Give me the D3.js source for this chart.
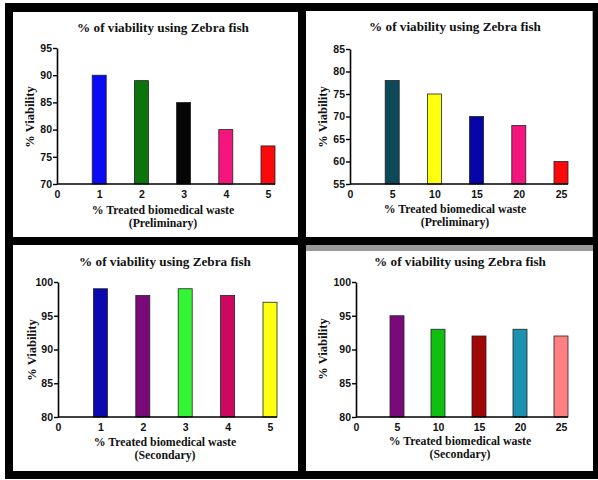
<!DOCTYPE html>
<html><head><meta charset="utf-8">
<script src="https://cdn.jsdelivr.net/npm/d3@7"></script>
<style>
html,body{margin:0;padding:0;background:#fff;}
svg{display:block;}
</style></head>
<body>
<script>
// ---- Data ----
const catsA = [1, 2, 3, 4, 5];
const catsB = [5, 10, 15, 20, 25];
const prelimA = [90, 89, 85, 80, 77];
const prelimB = [78, 75, 70, 68, 60];
const secondA = [99, 98, 99, 98, 97];
const secondB = [95, 93, 92, 93, 92];
const yTicksPrelimA = [70, 75, 80, 85, 90, 95];
const yTicksPrelimB = [55, 60, 65, 70, 75, 80, 85];
const yTicksSecond = [80, 85, 90, 95, 100];
const colorsPrelimA = ["#0a0af5", "#0b740b", "#050505", "#f5157f", "#fa0a0a"];
const colorsPrelimB = ["#0c4a5a", "#ffff10", "#0606a8", "#f5157f", "#fa0a0a"];
const colorsSecondA = ["#0a0ab0", "#7a0a7a", "#33f533", "#cc0860", "#ffff10"];
const colorsSecondB = ["#7a0a7a", "#10c010", "#a00808", "#1a92b0", "#ff8080"];
const titleText = "% of viability using Zebra fish";
const yTitleText = "% Viability";
const xTitleText = "% Treated biomedical waste";
const subPrelim = "(Preliminary)";
const subSecond = "(Secondary)";

const W = 598, H = 480;
const svg = d3.select("body").append("svg").attr("width", W).attr("height", H);

// frame
svg.append("rect").attr("x", 5).attr("y", 3).attr("width", 593).attr("height", 476).attr("fill", "#000");
const panels = [
  {px:13, py:12, pw:285, ph:225},
  {px:306, py:11, pw:287, ph:226},
  {px:13, py:245, pw:285, ph:226},
  {px:306, py:245, pw:287, ph:226}
];
panels.forEach(p => svg.append("rect").attr("x", p.px).attr("y", p.py).attr("width", p.pw).attr("height", p.ph).attr("fill", "#fff"));
svg.append("rect").attr("x", 306).attr("y", 245).attr("width", 287).attr("height", 6).attr("fill", "#999");
svg.append("rect").attr("x", 592).attr("y", 11).attr("width", 1).attr("height", 226).attr("fill", "#aaa");

const charts = [
  {cats: catsA, vals: prelimA, colors: colorsPrelimA, yTicks: yTicksPrelimA, sub: subPrelim,
   x0: 57, x1: 268, yT: 48, yB: 184, titleX: 163, titleY: 31.5, yTitleX: 30, yTitleY: 117, xT1: 214, xT2: 227, xTitleX: 163},
  {cats: catsB, vals: prelimB, colors: colorsPrelimB, yTicks: yTicksPrelimB, sub: subPrelim,
   x0: 350, x1: 561, yT: 49, yB: 184, titleX: 455, titleY: 31, yTitleX: 323, yTitleY: 117, xT1: 212.5, xT2: 225.5, xTitleX: 455},
  {cats: catsA, vals: secondA, colors: colorsSecondA, yTicks: yTicksSecond, sub: subSecond,
   x0: 58, x1: 270, yT: 282, yB: 417, titleX: 165, titleY: 266, yTitleX: 31.5, yTitleY: 350, xT1: 446, xT2: 459, xTitleX: 165},
  {cats: catsB, vals: secondB, colors: colorsSecondB, yTicks: yTicksSecond, sub: subSecond,
   x0: 356, x1: 561, yT: 282, yB: 417, titleX: 460, titleY: 266, yTitleX: 323, yTitleY: 349, xT1: 445, xT2: 458, xTitleX: 460}
];

const barW = 14;
const serif = "'Liberation Serif', 'DejaVu Serif', serif";
const sans = "'Liberation Sans', Arial, sans-serif";

charts.forEach(c => {
  const g = svg.append("g");
  const last = c.cats[c.cats.length - 1];
  const x = d3.scaleLinear().domain([0, last]).range([c.x0, c.x1]);
  const y = d3.scaleLinear().domain([d3.min(c.yTicks), d3.max(c.yTicks)]).range([c.yB, c.yT]);

  // bars
  g.selectAll("rect.bar").data(c.vals).enter().append("rect")
    .attr("class", "bar")
    .attr("x", (d, i) => x(c.cats[i]) - barW / 2)
    .attr("y", d => y(d))
    .attr("width", barW)
    .attr("height", d => y.range()[0] - y(d))
    .attr("fill", (d, i) => c.colors[i])
    .attr("stroke", "#222").attr("stroke-width", 0.8);

  // y axis
  const ya = g.append("g").attr("transform", `translate(${c.x0},0)`)
    .call(d3.axisLeft(y).tickValues(c.yTicks).tickSize(4).tickSizeOuter(0).tickPadding(1).tickFormat(d3.format("d")));
  ya.select(".domain").attr("stroke", "#000").attr("stroke-width", 1.6);
  ya.selectAll(".tick line").attr("stroke", "#000").attr("stroke-width", 1.4);
  ya.selectAll("text").attr("font-family", sans).attr("font-weight", "bold").attr("font-size", 10.5).attr("fill", "#111");

  // x axis
  const xa = g.append("g").attr("transform", `translate(0,${c.yB})`)
    .call(d3.axisBottom(x).tickValues([0].concat(c.cats)).tickSize(0).tickPadding(7).tickFormat(d3.format("d")));
  xa.select(".domain").remove();
  xa.selectAll("text").attr("font-family", sans).attr("font-weight", "bold").attr("font-size", 10.5).attr("fill", "#111");
  g.append("line").attr("x1", x.range()[0]).attr("x2", x.range()[1] + barW / 2)
    .attr("y1", c.yB).attr("y2", c.yB).attr("stroke", "#000").attr("stroke-width", 1.6);

  // titles
  g.append("text").attr("x", c.titleX).attr("y", c.titleY).attr("text-anchor", "middle")
    .attr("font-family", serif).attr("font-weight", "bold").attr("font-size", 13.2).attr("fill", "#111").text(titleText);
  g.append("text").attr("transform", `translate(${c.yTitleX},${c.yTitleY}) rotate(-90)`)
    .attr("text-anchor", "middle").attr("dy", "0.35em")
    .attr("font-family", serif).attr("font-weight", "bold").attr("font-size", 12.5).attr("fill", "#111").text(yTitleText);
  g.append("text").attr("x", c.xTitleX).attr("y", c.xT1).attr("text-anchor", "middle")
    .attr("font-family", serif).attr("font-weight", "bold").attr("font-size", 11.8).attr("fill", "#111").text(xTitleText);
  g.append("text").attr("x", c.xTitleX).attr("y", c.xT2).attr("text-anchor", "middle")
    .attr("font-family", serif).attr("font-weight", "bold").attr("font-size", 11.8).attr("fill", "#111").text(c.sub);
});
</script>
</body></html>
